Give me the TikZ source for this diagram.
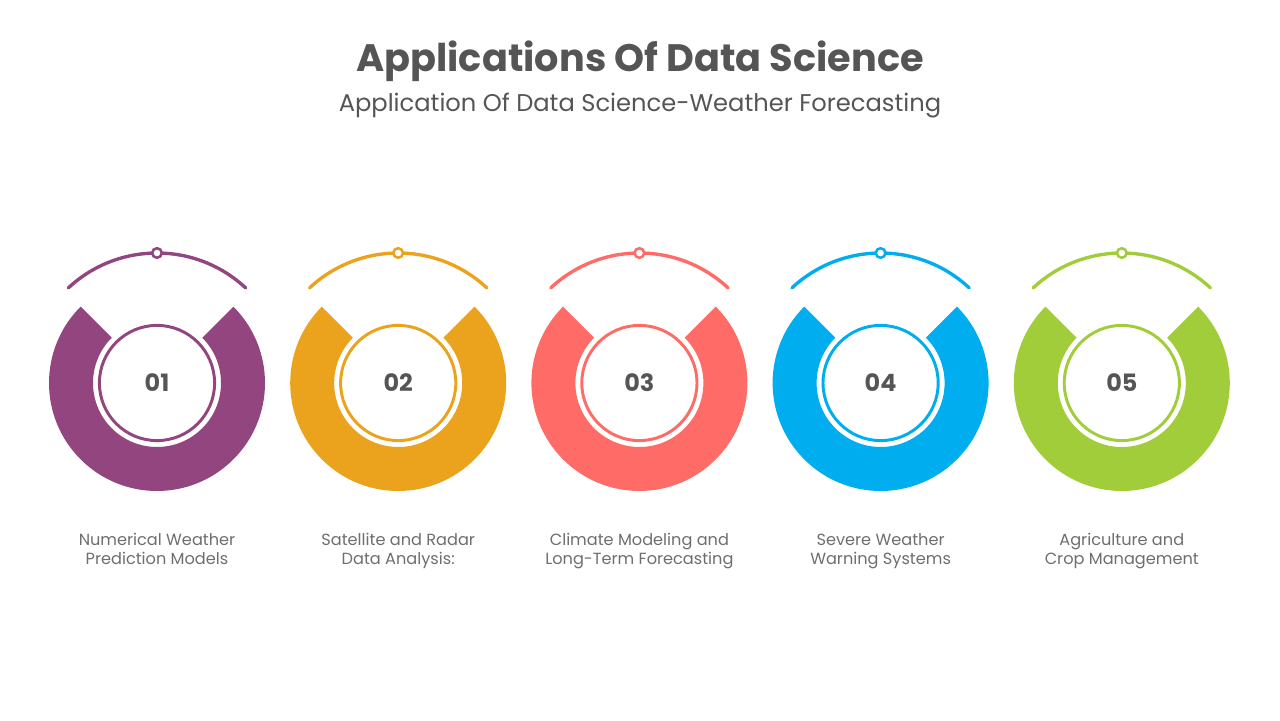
\documentclass[tikz,border=0pt]{standalone}
\usepackage{fontspec}
\setmainfont{Poppins}
\usepackage{xcolor}
\usetikzlibrary{positioning}

\definecolor{plum}{HTML}{92457F}
\definecolor{amber}{HTML}{EBA31E}
\definecolor{coral}{HTML}{FF6B66}
\definecolor{sky}{HTML}{00AEEF}
\definecolor{lime}{HTML}{A2CD3A}
\definecolor{ink}{HTML}{555555}

\begin{document}
\begin{tikzpicture}[
  node distance=6.03cm, on grid,
  hub/.style={circle, draw=#1, line width=2.1pt, minimum size=2.88cm, text=ink, font=\bfseries\fontsize{17}{20}\selectfont},
  knob/.style={circle, draw=#1, fill=white, line width=1.8pt, minimum size=0.24cm, inner sep=0pt},
  caption/.style={align=center, anchor=north, text=ink!85, font=\fontsize{11.5}{13.5}\selectfont},
  band/.style={line width=2.4pt, draw=#1, line cap=round}
]
  \useasboundingbox (0,0) rectangle (32,18);

  \node[text=ink, font=\bfseries\fontsize{27.2}{32}\selectfont] (title) at (16,16.475) {Applications Of Data Science};
  \node[text=ink, font=\fontsize{17.2}{20}\selectfont, below=1.125cm of title] (subtitle) {Application Of Data Science-Weather Forecasting};

  \node[hub=plum] (n1) at (3.925,8.425) {01};
  \node[hub=amber, right=of n1] (n2) {02};
  \node[hub=coral, right=of n2] (n3) {03};
  \node[hub=sky, right=of n3] (n4) {04};
  \node[hub=lime, right=of n4] (n5) {05};

  % open rings and top arcs
  \foreach \i/\c in {1/plum, 2/amber, 3/coral, 4/sky, 5/lime} {
    \fill[\c] ([shift={(135:2.7)}]n\i.center) arc[start angle=135, end angle=405, radius=2.7]
      -- ([shift={(45:1.6)}]n\i.center) arc[start angle=45, end angle=-225, radius=1.6] -- cycle;
    \draw[band=\c] ([shift={(133:3.25)}]n\i.center) arc[start angle=133, end angle=47, radius=3.25];
    \node[knob=\c, above=3.25cm of n\i] (d\i) {};
  }

  \node[below=3.6cm of n1, caption] (t1) {\strut Numerical Weather\\Prediction Models};
  \node[below=3.6cm of n2, caption] (t2) {\strut Satellite and Radar\\Data Analysis:};
  \node[below=3.6cm of n3, caption] (t3) {\strut Climate Modeling and\\Long-Term Forecasting};
  \node[below=3.6cm of n4, caption] (t4) {\strut Severe Weather\\Warning Systems};
  \node[below=3.6cm of n5, caption] (t5) {\strut Agriculture and\\Crop Management};
\end{tikzpicture}
\end{document}
